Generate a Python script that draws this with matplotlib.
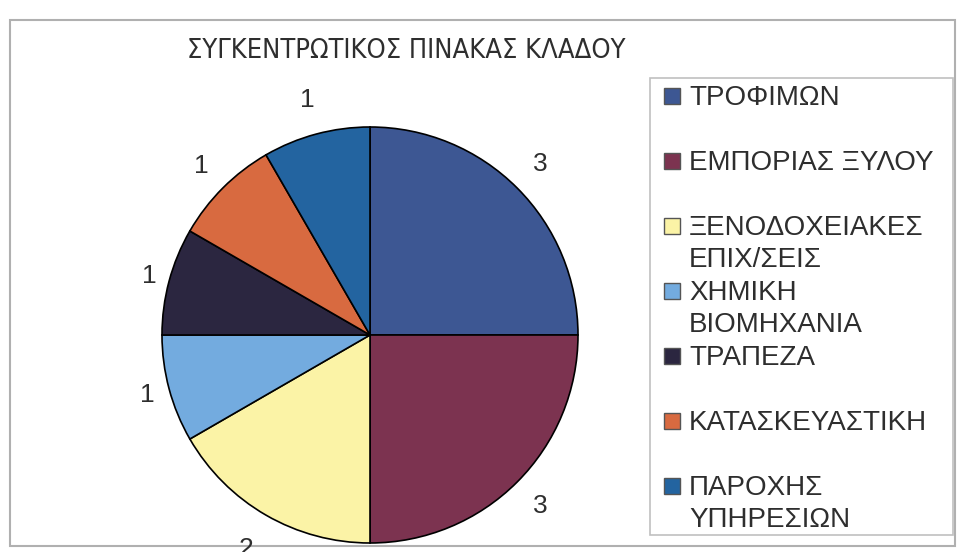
import matplotlib
matplotlib.use('Agg')
import matplotlib.pyplot as plt
from matplotlib.patches import Rectangle
import numpy as np

# data
categories = ['ΤΡΟΦΙΜΩΝ', 'ΕΜΠΟΡΙΑΣ ΞΥΛΟΥ', 'ΞΕΝΟΔΟΧΕΙΑΚΕΣ\nΕΠΙΧ/ΣΕΙΣ', 'ΧΗΜΙΚΗ\nΒΙΟΜΗΧΑΝΙΑ',
              'ΤΡΑΠΕΖΑ', 'ΚΑΤΑΣΚΕΥΑΣΤΙΚΗ', 'ΠΑΡΟΧΗΣ\nΥΠΗΡΕΣΙΩΝ']
values = [3, 3, 2, 1, 1, 1, 1]
colors = ['#3d5793', '#7c3350', '#fbf3a6', '#73abdf', '#2b2640', '#d86a40', '#2364a0']
title = 'ΣΥΓΚΕΝΤΡΩΤΙΚΟΣ ΠΙΝΑΚΑΣ ΚΛΑΔΟΥ'

plt.rcParams['font.family'] = ['Liberation Sans', 'DejaVu Sans']
TXT = '#2e2e2e'

W, H = 957, 552
fig = plt.figure(figsize=(W / 100, H / 100), dpi=100)


def fx(x):
    return x / W


def fy(y):
    return 1 - y / H


# outer chart frame
fig.add_artist(Rectangle((fx(10), fy(546)), fx(955) - fx(10), fy(20) - fy(546),
                         transform=fig.transFigure, fill=False, edgecolor='#b0b0b0',
                         linewidth=1.5, zorder=-1))

# pie
cx, cy, r = 370, 335, 208
ax = fig.add_axes([fx(cx - r), fy(cy + r), 2 * r / W, 2 * r / H])
wedges, texts = ax.pie(values, colors=colors, labels=[str(v) for v in values], startangle=90,
                       counterclock=False, labeldistance=1.15,
                       wedgeprops=dict(edgecolor='black', linewidth=1.2),
                       textprops=dict(fontsize=19, color=TXT, ha='center', va='center'))
# excel "best fit" puts the labels at slightly different distances
label_dist = [1.16, 1.16, 1.19, 1.11, 1.1, 1.15, 1.17]
for w, t, d in zip(wedges, texts, label_dist):
    ang = np.deg2rad((w.theta1 + w.theta2) / 2)
    t.set_position((d * np.cos(ang), d * np.sin(ang)))
    t.set_ha('center')
ax.set_xlim(-1, 1)
ax.set_ylim(-1, 1)
ax.set_aspect('equal')
ax.axis('off')

fig.text(fx(406), fy(51), title, ha='center', va='center', fontsize=19.5, color=TXT,
         family=['DejaVu Sans'], fontstretch='condensed')

# legend (Excel style: fixed slot per entry, second line hangs below)
fig.add_artist(Rectangle((fx(650), fy(535)), fx(953) - fx(650), fy(78) - fy(535),
                         transform=fig.transFigure, fill=False, edgecolor='#c0c0c0',
                         linewidth=1.2))
y0, step, line_h = 96, 65, 32
for i, (lab, col) in enumerate(zip(categories, colors)):
    yc = y0 + i * step
    fig.add_artist(Rectangle((fx(664), fy(yc + 8)), 16 / W, 16 / H, transform=fig.transFigure,
                             facecolor=col, edgecolor='#555555', linewidth=1))
    for j, line in enumerate(lab.split('\n')):
        fig.text(fx(689), fy(yc + j * line_h + 9), line, ha='left', va='baseline',
                 fontsize=20, color=TXT)

fig.savefig('out.png', dpi=100)
